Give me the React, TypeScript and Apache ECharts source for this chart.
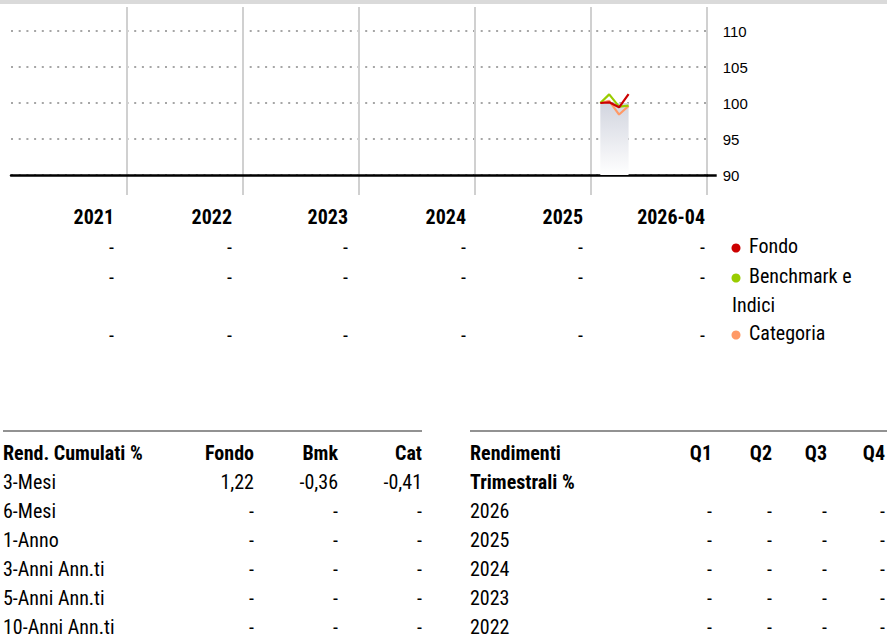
import React, { useEffect, useRef } from "react";
import * as echarts from "echarts";

// ---- chart data ----
const dates = ["2026-01-31", "2026-02-28", "2026-03-31", "2026-04-30"];
const fondo = [100.0, 100.1, 99.4, 101.22];
const benchmark = [100.0, 101.2, 99.5, 99.64];
const categoria = [100.0, 100.3, 98.4, 99.59];
const historyBand = [100, 100, 100, 100];
const yTicks = [90, 95, 100, 105, 110];

// ---- annual table under chart ----
const years = ["2021", "2022", "2023", "2024", "2025", "2026-04"];
const annualFondo = ["-", "-", "-", "-", "-", "-"];
const annualBmk = ["-", "-", "-", "-", "-", "-"];
const annualCat = ["-", "-", "-", "-", "-", "-"];
const legendNames = ["Fondo", "Benchmark e Indici", "Categoria"];
const legendColors = ["#cc0000", "#99cc00", "#ff9966"];

// ---- cumulative returns table ----
const cumHeader = ["Rend. Cumulati %", "Fondo", "Bmk", "Cat"];
const cumLabels = ["3-Mesi", "6-Mesi", "1-Anno", "3-Anni Ann.ti", "5-Anni Ann.ti", "10-Anni Ann.ti"];
const cumFondo = ["1,22", "-", "-", "-", "-", "-"];
const cumBmk = ["-0,36", "-", "-", "-", "-", "-"];
const cumCat = ["-0,41", "-", "-", "-", "-", "-"];

// ---- quarterly returns table ----
const qTitle = ["Rendimenti", "Trimestrali %"];
const qCols = ["Q1", "Q2", "Q3", "Q4"];
const qYears = ["2026", "2025", "2024", "2023", "2022"];
const qValues = [
  ["-", "-", "-", "-"],
  ["-", "-", "-", "-"],
  ["-", "-", "-", "-"],
  ["-", "-", "-", "-"],
  ["-", "-", "-", "-"],
];

const COND = "'Roboto Condensed', Roboto, 'Liberation Sans Narrow', sans-serif";
const FS = 20;

function txt(text: string, x: number, y: number, align: string, bold = false, size = FS) {
  return {
    type: "text",
    x,
    y,
    silent: true,
    style: {
      text,
      fill: "#000",
      fontFamily: COND,
      fontSize: size,
      fontWeight: bold ? "bold" : "normal",
      align,
      textAlign: align,
      verticalAlign: "middle",
      textVerticalAlign: "middle",
    },
  };
}

export default function App() {
  const ref = useRef<HTMLDivElement>(null);
  useEffect(() => {
    if (!ref.current) return;
    const chart = echarts.init(ref.current, undefined, { renderer: "svg" });

    const graphics: any[] = [];
    // annual header + rows
    const colRight = [114, 232, 348, 466, 583, 705];
    const rowY = [247, 277, 335];
    years.forEach((y, i) => graphics.push(txt(y, colRight[i], 217, "right", true)));
    [annualFondo, annualBmk, annualCat].forEach((arr, r) =>
      arr.forEach((v, i) => graphics.push(txt(v, colRight[i], rowY[r], "right")))
    );
    // legend
    const legDotY = [247, 277, 334];
    legendNames.forEach((n, i) => {
      graphics.push({
        type: "circle",
        silent: true,
        shape: { cx: 736, cy: legDotY[i] + 1, r: 4.5 },
        style: { fill: legendColors[i] },
      });
    });
    graphics.push(txt("Fondo", 749, 246, "left"));
    graphics.push(txt("Benchmark e", 749, 276, "left"));
    graphics.push(txt("Indici", 732, 305, "left"));
    graphics.push(txt("Categoria", 749, 333, "left"));

    // cumulative table
    graphics.push({ type: "line", silent: true, shape: { x1: 3, y1: 431, x2: 422, y2: 431 }, style: { stroke: "#6e6e6e", lineWidth: 1.5 } });
    const cumX = [3, 254, 338, 422];
    cumHeader.forEach((h, i) => graphics.push(txt(h, cumX[i], 453, i === 0 ? "left" : "right", true)));
    cumLabels.forEach((l, r) => {
      const y = 481.5 + r * 29;
      graphics.push(txt(l, cumX[0], y, "left"));
      graphics.push(txt(cumFondo[r], cumX[1], y, "right"));
      graphics.push(txt(cumBmk[r], cumX[2], y, "right"));
      graphics.push(txt(cumCat[r], cumX[3], y, "right"));
    });

    // quarterly table
    graphics.push({ type: "line", silent: true, shape: { x1: 470, y1: 431, x2: 887, y2: 431 }, style: { stroke: "#6e6e6e", lineWidth: 1.5 } });
    graphics.push(txt(qTitle[0], 470, 453, "left", true));
    graphics.push(txt(qTitle[1], 470, 481.5, "left", true));
    const qX = [712, 772, 827, 885];
    qCols.forEach((q, i) => graphics.push(txt(q, qX[i], 453, "right", true)));
    qYears.forEach((yr, r) => {
      const y = 510.5 + r * 29;
      graphics.push(txt(yr, 470, y, "left"));
      qValues[r].forEach((v, c) => graphics.push(txt(v, qX[c], y, "right")));
    });

    const line = (name: string, vals: number[], color: string) => ({
      name,
      type: "line",
      xAxisIndex: 0,
      yAxisIndex: 0,
      data: dates.map((d, i) => [d, vals[i]]),
      showSymbol: false,
      symbol: "none",
      lineStyle: { color, width: 2.2 },
      z: 5,
    });

    chart.setOption({
      animation: false,
      grid: [
        { left: 11, top: 31, width: 695.7, height: 144 },
        { left: 11, top: 7, width: 695.7, height: 188 },
      ],
      xAxis: [
        {
          type: "time",
          gridIndex: 0,
          min: "2021-01-01",
          max: "2027-01-01",
          axisLine: { show: true, onZero: false, lineStyle: { color: "#000", width: 2.5 } },
          axisTick: { show: false },
          axisLabel: { show: false },
          splitLine: { show: false },
        },
        {
          type: "value",
          gridIndex: 1,
          min: 2021,
          max: 2027,
          interval: 1,
          axisLine: { show: false },
          axisTick: { show: false },
          axisLabel: { show: false },
          splitLine: { show: true, showMinLine: false, showMaxLine: true, lineStyle: { color: "#d0d0d0", width: 2 } },
        },
      ],
      yAxis: [
        {
          type: "value",
          gridIndex: 0,
          position: "right",
          min: yTicks[0],
          max: yTicks[yTicks.length - 1],
          interval: 5,
          axisLine: { show: false },
          axisTick: { show: false },
          axisLabel: { margin: 16, color: "#000", fontSize: 15, fontFamily: "'Liberation Sans', Arial, sans-serif" },
          splitLine: { show: true, lineStyle: { color: "#a6a6a6", width: 2, type: [2, 5.7] } },
        },
        { type: "value", gridIndex: 1, show: false, min: 0, max: 1 },
        {
          type: "value",
          gridIndex: 0,
          position: "right",
          min: yTicks[0],
          max: yTicks[yTicks.length - 1],
          interval: 5,
          axisLine: { show: false },
          axisTick: { show: true, customValues: [yTicks[0]], length: 10, inside: false, lineStyle: { color: "#000", width: 2.5 } },
          axisLabel: { show: false },
          splitLine: { show: false },
        },
      ],
      series: [
        {
          name: "history",
          type: "line",
          xAxisIndex: 0,
          yAxisIndex: 0,
          data: dates.map((d, i) => [d, historyBand[i]]),
          showSymbol: false,
          symbol: "none",
          silent: true,
          lineStyle: { width: 0 },
          areaStyle: {
            origin: "start",
            opacity: 1,
            color: new echarts.graphic.LinearGradient(0, 0, 0, 1, [
              { offset: 0, color: "#d2d5df" },
              { offset: 1, color: "#ffffff" },
            ]),
          },
          z: 1,
        },
        line(legendNames[2], categoria, legendColors[2]),
        line(legendNames[1], benchmark, legendColors[1]),
        line(legendNames[0], fondo, legendColors[0]),
      ],
      graphic: graphics,
    });
    return () => chart.dispose();
  }, []);

  return (
    <div style={{ position: "fixed", left: 0, top: 0, width: 887, height: 637, background: "#fff" }}>
      <div style={{ position: "absolute", left: 0, top: 0, width: 887, height: 4, background: "#dadada" }} />
      <div ref={ref} style={{ position: "absolute", left: 0, top: 0, width: 887, height: 637 }} />
    </div>
  );
}
